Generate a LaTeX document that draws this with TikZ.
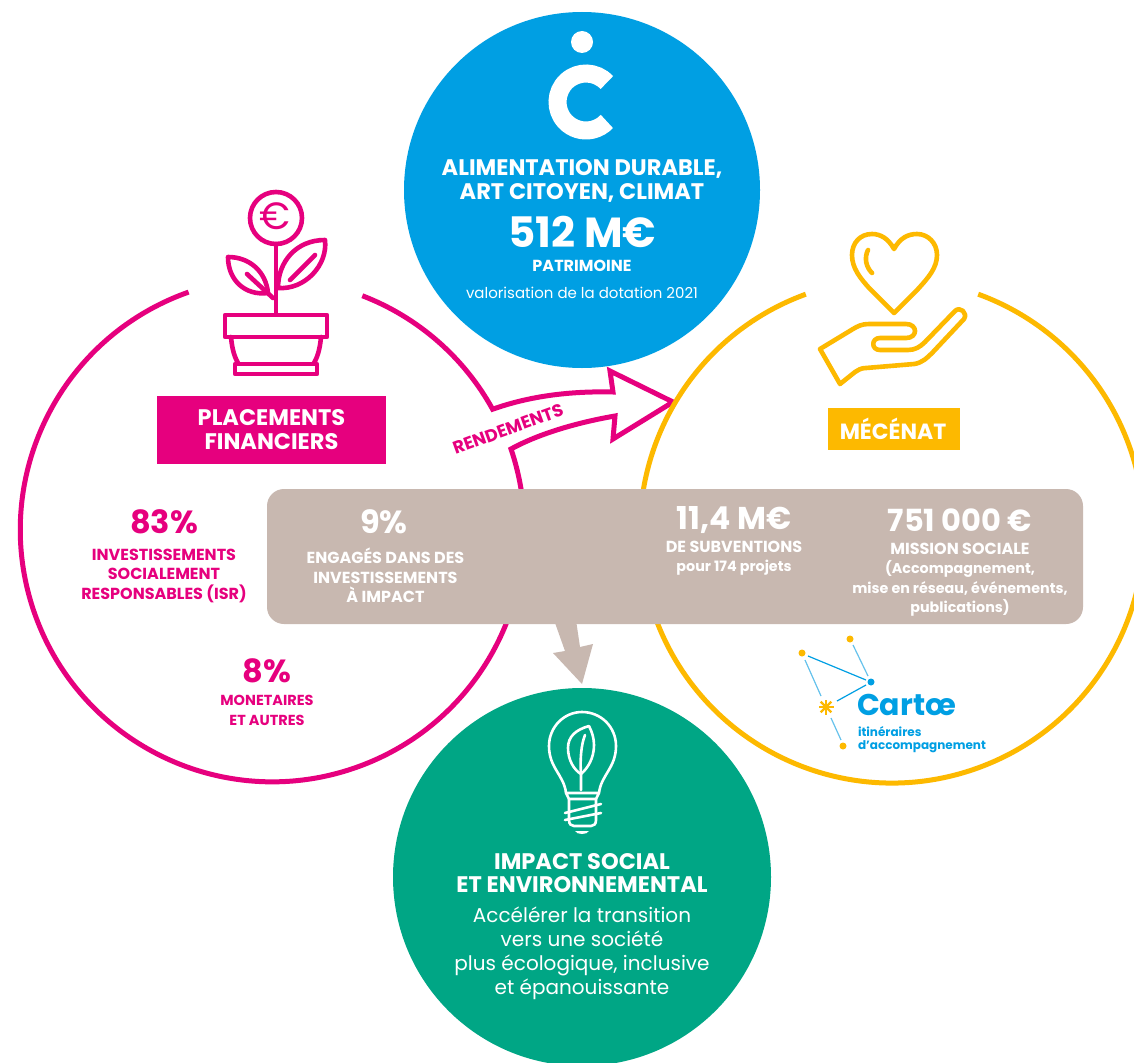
\documentclass[tikz,border=0pt]{standalone}
\usepackage{fontspec}
\setmainfont{Poppins}
\definecolor{cpink}{HTML}{E6007E}
\definecolor{cblue}{HTML}{009FE3}
\definecolor{cyellow}{HTML}{FDB900}
\definecolor{cgreen}{HTML}{00A685}
\definecolor{cbeige}{HTML}{C8B8B0}
\definecolor{clight}{HTML}{66C2EC}
\newcommand{\fs}[2]{\fontsize{#1}{#2}\selectfont}
\newcommand{\lc}{\fontsize{14.3}{19.5}\selectfont}
\tikzset{
  ring/.style={line width=5pt,line join=miter},
  icon/.style={line width=#1,line join=round,line cap=round},
  txt/.style={inner sep=0pt,outer sep=0pt,align=center,text=white},
  ptxt/.style={txt,text=cpink},
  big/.style={font=\fs{32}{32}\bfseries},
  small/.style={font=\fs{16}{19.5}\bfseries},
  bar/.style={font=\fs{22.5}{24}\bfseries},
}
\begin{document}
\begin{tikzpicture}[x=1pt,y=1pt,yscale=-1]
\useasboundingbox (0,0) rectangle (1134,1062);
\clip (0,0) rectangle (1134,1062);
\fill[white] (0,0) rectangle (1134,1062);
\coordinate (P) at (272,531);
\coordinate (Y) at (892,531);
% pink ring with arrow
\draw[cpink,ring] (P) ++(-69:252pt) arc[start angle=-69,end angle=-28.9,radius=252pt]
  .. controls (530,396) and (570,391) .. (613,392) -- (610,371) -- (673,402) -- (613,439) -- (615,416)
  .. controls (580,422) and (540,433) .. (511,449)
  arc[start angle=-18.7,end angle=250.6,radius=252pt];
% yellow ring
\draw[cyellow,ring] (Y) ++(-110:252pt) arc[start angle=-110,end angle=-430,radius=252pt];
% blue / green discs
\fill[cblue] (582,190) circle[radius=178pt];
\fill[cgreen] (582,877) circle[radius=189pt];
% beige arrow and bar
\fill[cbeige] (554,620) -- (565,651) -- (553,653) -- (582,684) -- (593,644) -- (580,647) -- (576,620) -- cycle;
\fill[cbeige,rounded corners=17pt] (267,489) rectangle (1083,624);
% C logo
\fill[white] (582,42) circle[radius=11pt];
\draw[white,line width=18pt] (586,102) ++(-43:28.5pt) arc[start angle=-43,end angle=-317,radius=28.5pt];
% plant icon
\begin{scope}[cpink,icon=4.6pt]
\draw (276,218) circle[radius=26pt];
\draw (276,244) -- (276,313);
\draw (278,288) .. controls (278,262) and (296,240) .. (325,240) .. controls (328,265) and (305,290) .. (278,288) -- cycle;
\draw (315,255) -- (290,280);
\draw (228,257) .. controls (250,257) and (266,272) .. (268,293) .. controls (245,296) and (228,280) .. (228,257) -- cycle;
\draw (247,274) -- (273,298);
\draw (225,315) rectangle (327,337);
\draw (231,337) .. controls (232,348) and (234,356) .. (238,363);
\draw (321,337) .. controls (320,348) and (318,356) .. (314,363);
\draw (235,364) rectangle (317,374);
\end{scope}
\node[txt,text=cpink,font=\fs{38}{38}] (euro) at (275,216) {€};
% heart and hand
\begin{scope}[cyellow,icon=4.6pt]
\draw (894,249) .. controls (888,238) and (880,234) .. (872,234) .. controls (860,234) and (852,243) .. (852,255)
  .. controls (852,268) and (860,278) .. (870,289) -- (894,313) -- (918,289)
  .. controls (928,278) and (937,268) .. (937,255) .. controls (937,243) and (928,234) .. (917,234)
  .. controls (908,234) and (900,238) .. (894,249) -- cycle;
\draw (868,250) .. controls (864,258) and (866,267) .. (872,273);
\draw (820,349) -- (853,329) .. controls (858,326) and (862,324) .. (869,324) -- (906,324)
  .. controls (918,324) and (918,338) .. (906,338) -- (880,338) .. controls (871,338) and (871,350) .. (880,350)
  -- (908,350) .. controls (915,350) and (920,347) .. (925,342) -- (955,311)
  .. controls (960,306) and (968,313) .. (964,319) -- (933,352)
  .. controls (927,358) and (922,363) .. (914,364) -- (866,368)
  .. controls (861,368) and (858,370) .. (855,372) -- (840,384) -- cycle;
\end{scope}
% Cartae logo
\draw[cblue,line width=1.2pt] (808,656) -- (866,680);
\draw[cblue,line width=1.2pt] (837,701) -- (866,685);
\draw[clight,line width=1.2pt] (853,645) -- (868,676);
\draw[clight,line width=1.2pt] (805,660) -- (821,696);
\draw[clight,line width=1.2pt] (831,718) -- (841,740);
\fill[cyellow] (850,639) circle[radius=3.5pt] (802,653) circle[radius=3.5pt] (843,746) circle[radius=3.5pt];
\fill[cblue] (871,682) circle[radius=3.5pt];
\foreach \a in {0,45,...,315} \draw[cyellow,line width=2.2pt] (826,707) -- ++(\a:7.5pt);
\node[txt,text=cblue,anchor=base west,font=\fs{30}{30}\bfseries] (cartae) at (857,715) {Cartœ};
\node[txt,text=cblue,anchor=base west,font=\fs{12}{13}\bfseries] (cartae1) at (858,736) {itinéraires};
\node[txt,text=cblue,anchor=base west,font=\fs{12}{13}\bfseries] (cartae2) at (858,749) {d’accompagnement};
% bulb
\begin{scope}[white,icon=2.6pt]
\draw (566,793) .. controls (564,775) and (549,768) .. (549,746) .. controls (549,727) and (564,712) .. (582,712)
  .. controls (601,712) and (616,727) .. (616,746) .. controls (616,768) and (601,775) .. (599,793);
\draw (566,793) -- (599,793) -- (596,799) -- (569,799) -- cycle;
\draw (569,799) -- (569,820) .. controls (569,824) and (571,826) .. (574,826) -- (591,826) .. controls (594,826) and (596,824) .. (596,820) -- (596,799);
\draw (565,813) -- (601,804);
\draw (565,820) -- (601,813);
\draw (589,726) .. controls (575,730) and (568,737) .. (568,748) .. controls (568,760) and (574,770) .. (581,774)
  .. controls (588,768) and (594,758) .. (594,745) .. controls (594,738) and (592,732) .. (589,726) -- cycle;
\draw (585,735) .. controls (581,745) and (580,760) .. (581,774) -- (581,790);
\end{scope}
\fill[white] (575,831) -- (589,831) .. controls (587,835) and (577,835) .. (575,831) -- cycle;
% pink & yellow labels
\fill[cpink] (157,396) rectangle (386,464);
\node[txt,bar] (place) at (271.5,430) {PLACEMENTS\\FINANCIERS};
\fill[cyellow] (828,408) rectangle (960,450);
\node[txt,bar,font=\fs{22}{24}\bfseries] (mecenat) at (893,429) {MÉCÉNAT};
\node[ptxt,rotate=20,font=\fs{17.5}{18}\bfseries] (rend) at (508,429) {RENDEMENTS};
% pink figures
\node[ptxt,big] (p83) at (164,522) {83\%};
\node[ptxt,small] (p83t) at (164,575.5) {INVESTISSEMENTS\\SOCIALEMENT\\RESPONSABLES (ISR)};
\node[ptxt,big] (p8) at (267,671) {8\%};
\node[ptxt,small,font=\fs{14.5}{19.5}\bfseries] (p8t) at (267,710.5) {MONETAIRES\\ET AUTRES};
% bar figures
\node[txt,big] (p9) at (384,522) {9\%};
\node[txt,small] (p9t) at (385.5,575.5) {ENGAGÉS DANS DES\\INVESTISSEMENTS\\À IMPACT};
\node[txt,font=\fs{31.5}{32}\bfseries] (m11) at (734,520) {11,4 M€};
\node[txt,small] (m11t) at (734,558) {DE SUBVENTIONS\\\lc pour 174 projets};
\node[txt,font=\fs{30.5}{32}\bfseries] (k751) at (960,520) {751 000 €};
\node[txt,small] (k751t) at (960,579.5) {MISSION SOCIALE\\\lc (Accompagnement,\\\lc mise en réseau, événements,\\\lc publications)};
% blue text
\node[txt,font=\fs{22.5}{24}\bfseries] (bt) at (582,180.5) {ALIMENTATION DURABLE,\\ART CITOYEN, CLIMAT};
\node[txt,font=\fs{42}{42}\bfseries] (b512) at (582,232) {512 M€};
\node[txt,font=\fs{16}{16}\bfseries] (bpat) at (582,266) {PATRIMOINE};
\node[txt,font=\fs{15}{15}] (bval) at (582,293) {valorisation de la dotation 2021};
% green text
\node[txt,font=\fs{22.5}{23}\bfseries] (gt) at (582,873.5) {IMPACT SOCIAL\\ET ENVIRONNEMENTAL};
\node[txt,font=\fs{20}{24}] (gd) at (582,953) {Accélérer la transition\\vers une société\\plus écologique, inclusive\\et épanouissante};
\end{tikzpicture}
\end{document}
